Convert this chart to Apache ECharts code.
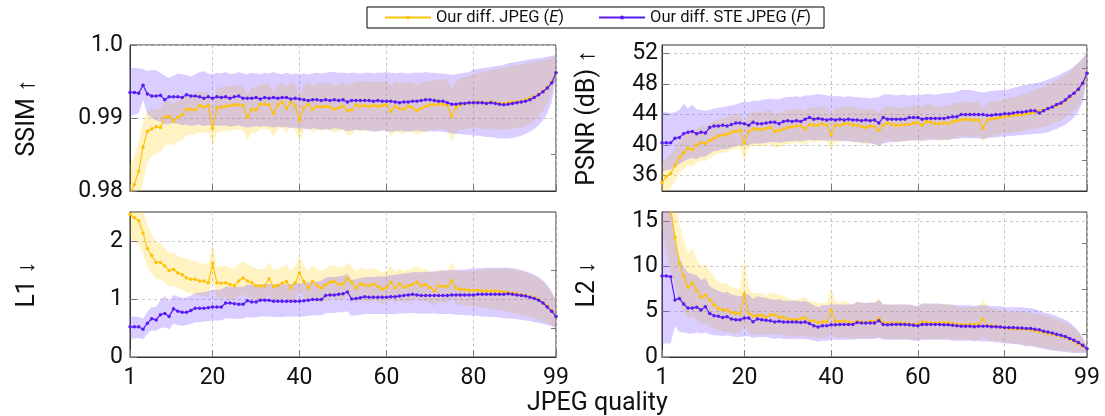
<!DOCTYPE html>
<html>
<head>
<meta charset="utf-8">
<title>JPEG quality metrics</title>
<script src="https://cdn.jsdelivr.net/npm/echarts@6/dist/echarts.min.js"></script>
<style>
  html, body { margin: 0; padding: 0; background: #fff; }
  #chart { width: 1105px; height: 416px; }
</style>
</head>
<body>
<div id="chart"></div>
<script>
// x 轴：JPEG quality 1..99
var quality = [];
for (var q = 1; q <= 99; q++) quality.push(q);
var qualityTicks = [1, 20, 40, 60, 80, 99];

// ---- SSIM ----
var ssimTicks = [0.98, 0.99, 1.0];
var ssimMinor = [0.985, 0.995];
var ssimE = [
  0.9795, 0.9809, 0.9827, 0.9860, 0.9882, 0.9885, 0.9888, 0.9887, 0.9901, 0.9902,
  0.9896, 0.9901, 0.9904, 0.9912, 0.9912, 0.9911, 0.9917, 0.9915, 0.9917, 0.9886,
  0.9914, 0.9915, 0.9916, 0.9917, 0.9918, 0.9918, 0.9917, 0.9901, 0.9912, 0.9911,
  0.9919, 0.9919, 0.9918, 0.9906, 0.9918, 0.9922, 0.9913, 0.9922, 0.9916, 0.9897,
  0.9914, 0.9919, 0.9912, 0.9916, 0.9915, 0.9916, 0.9915, 0.9912, 0.9914, 0.9916,
  0.9910, 0.9911, 0.9918, 0.9916, 0.9917, 0.9916, 0.9917, 0.9916, 0.9917, 0.9918,
  0.9909, 0.9916, 0.9913, 0.9912, 0.9916, 0.9914, 0.9910, 0.9913, 0.9916, 0.9918,
  0.9918, 0.9919, 0.9919, 0.9917, 0.9902, 0.9914, 0.9918, 0.9920, 0.9920, 0.9921,
  0.9922, 0.9921, 0.9921, 0.9922, 0.9921, 0.9920, 0.9920, 0.9921, 0.9922, 0.9922,
  0.9923, 0.9925, 0.9927, 0.9929, 0.9933, 0.9937, 0.9942, 0.9949, 0.9962
];
var ssimEHi = [
  0.9835, 0.9850, 0.9868, 0.9895, 0.9908, 0.9912, 0.9913, 0.9913, 0.9922, 0.9924,
  0.9920, 0.9924, 0.9926, 0.9932, 0.9933, 0.9932, 0.9937, 0.9935, 0.9937, 0.9915,
  0.9941, 0.9942, 0.9943, 0.9944, 0.9945, 0.9945, 0.9944, 0.9932, 0.9942, 0.9942,
  0.9946, 0.9947, 0.9946, 0.9936, 0.9946, 0.9949, 0.9943, 0.9949, 0.9946, 0.9932,
  0.9946, 0.9949, 0.9944, 0.9948, 0.9947, 0.9948, 0.9948, 0.9945, 0.9947, 0.9949,
  0.9945, 0.9946, 0.9951, 0.9950, 0.9950, 0.9949, 0.9950, 0.9949, 0.9950, 0.9951,
  0.9944, 0.9950, 0.9948, 0.9947, 0.9950, 0.9949, 0.9946, 0.9948, 0.9950, 0.9951,
  0.9952, 0.9953, 0.9953, 0.9952, 0.9940, 0.9950, 0.9954, 0.9956, 0.9958, 0.9960,
  0.9962, 0.9963, 0.9964, 0.9966, 0.9967, 0.9968, 0.9969, 0.9971, 0.9972, 0.9973,
  0.9974, 0.9975, 0.9976, 0.9977, 0.9978, 0.9979, 0.9980, 0.9982, 0.9985
];
var ssimELo = [
  0.9780, 0.9780, 0.9785, 0.9810, 0.9840, 0.9847, 0.9852, 0.9853, 0.9862, 0.9865,
  0.9862, 0.9867, 0.9870, 0.9876, 0.9877, 0.9877, 0.9881, 0.9879, 0.9881, 0.9862,
  0.9880, 0.9881, 0.9882, 0.9883, 0.9884, 0.9884, 0.9883, 0.9870, 0.9880, 0.9879,
  0.9885, 0.9885, 0.9884, 0.9874, 0.9884, 0.9888, 0.9880, 0.9888, 0.9883, 0.9867,
  0.9883, 0.9887, 0.9880, 0.9884, 0.9883, 0.9884, 0.9883, 0.9880, 0.9882, 0.9884,
  0.9876, 0.9877, 0.9884, 0.9882, 0.9883, 0.9882, 0.9883, 0.9882, 0.9883, 0.9884,
  0.9875, 0.9882, 0.9879, 0.9878, 0.9882, 0.9880, 0.9877, 0.9879, 0.9882, 0.9884,
  0.9884, 0.9885, 0.9885, 0.9883, 0.9868, 0.9880, 0.9884, 0.9885, 0.9885, 0.9886,
  0.9886, 0.9885, 0.9885, 0.9886, 0.9885, 0.9884, 0.9884, 0.9885, 0.9886, 0.9886,
  0.9887, 0.9889, 0.9892, 0.9896, 0.9902, 0.9910, 0.9920, 0.9935, 0.9958
];
var ssimF = [
  0.9935, 0.9935, 0.9934, 0.9945, 0.9933, 0.9930, 0.9930, 0.9931, 0.9925, 0.9929,
  0.9929, 0.9929, 0.9928, 0.9932, 0.9930, 0.9930, 0.9929, 0.9927, 0.9929, 0.9927,
  0.9929, 0.9928, 0.9929, 0.9927, 0.9929, 0.9930, 0.9927, 0.9927, 0.9927, 0.9928,
  0.9926, 0.9928, 0.9927, 0.9928, 0.9927, 0.9928, 0.9928, 0.9926, 0.9927, 0.9926,
  0.9925, 0.9924, 0.9925, 0.9925, 0.9924, 0.9925, 0.9924, 0.9925, 0.9924, 0.9925,
  0.9922, 0.9924, 0.9924, 0.9924, 0.9924, 0.9924, 0.9923, 0.9924, 0.9923, 0.9923,
  0.9923, 0.9922, 0.9921, 0.9922, 0.9922, 0.9923, 0.9923, 0.9924, 0.9925, 0.9925,
  0.9924, 0.9923, 0.9923, 0.9921, 0.9919, 0.9919, 0.9920, 0.9920, 0.9921, 0.9921,
  0.9921, 0.9921, 0.9920, 0.9921, 0.9920, 0.9919, 0.9918, 0.9919, 0.9920, 0.9921,
  0.9922, 0.9923, 0.9925, 0.9928, 0.9932, 0.9936, 0.9941, 0.9948, 0.9962
];
var ssimFHi = [
  0.9968, 0.9969, 0.9968, 0.9967, 0.9964, 0.9966, 0.9965, 0.9962, 0.9958, 0.9955,
  0.9958, 0.9961, 0.9960, 0.9959, 0.9957, 0.9960, 0.9963, 0.9964, 0.9961, 0.9960,
  0.9962, 0.9961, 0.9963, 0.9960, 0.9961, 0.9963, 0.9961, 0.9960, 0.9962, 0.9961,
  0.9960, 0.9962, 0.9961, 0.9963, 0.9961, 0.9960, 0.9962, 0.9960, 0.9961, 0.9960,
  0.9961, 0.9960, 0.9961, 0.9962, 0.9961, 0.9962, 0.9963, 0.9963, 0.9962, 0.9962,
  0.9961, 0.9962, 0.9962, 0.9961, 0.9962, 0.9962, 0.9961, 0.9962, 0.9962, 0.9963,
  0.9962, 0.9961, 0.9962, 0.9962, 0.9961, 0.9962, 0.9962, 0.9962, 0.9963, 0.9962,
  0.9962, 0.9961, 0.9961, 0.9960, 0.9959, 0.9960, 0.9961, 0.9962, 0.9963, 0.9966,
  0.9967, 0.9968, 0.9969, 0.9970, 0.9971, 0.9972, 0.9973, 0.9975, 0.9976, 0.9977,
  0.9978, 0.9979, 0.9980, 0.9981, 0.9982, 0.9983, 0.9984, 0.9985, 0.9986
];
var ssimFLo = [
  0.9903, 0.9904, 0.9907, 0.9925, 0.9905, 0.9900, 0.9897, 0.9895, 0.9891, 0.9892,
  0.9893, 0.9892, 0.9890, 0.9891, 0.9889, 0.9890, 0.9891, 0.9889, 0.9890, 0.9889,
  0.9890, 0.9889, 0.9890, 0.9888, 0.9889, 0.9890, 0.9888, 0.9887, 0.9888, 0.9889,
  0.9888, 0.9889, 0.9888, 0.9887, 0.9888, 0.9887, 0.9888, 0.9886, 0.9887, 0.9885,
  0.9886, 0.9884, 0.9886, 0.9885, 0.9884, 0.9885, 0.9884, 0.9886, 0.9885, 0.9884,
  0.9882, 0.9883, 0.9884, 0.9883, 0.9884, 0.9883, 0.9881, 0.9882, 0.9883, 0.9882,
  0.9881, 0.9882, 0.9883, 0.9882, 0.9881, 0.9882, 0.9883, 0.9882, 0.9881, 0.9882,
  0.9881, 0.9882, 0.9881, 0.9880, 0.9879, 0.9878, 0.9878, 0.9877, 0.9877, 0.9876,
  0.9876, 0.9875, 0.9874, 0.9874, 0.9873, 0.9872, 0.9872, 0.9872, 0.9873, 0.9874,
  0.9876, 0.9878, 0.9881, 0.9885, 0.9890, 0.9897, 0.9906, 0.9922, 0.9957
];

// ---- PSNR (dB) ----
var psnrTicks = [36, 40, 44, 48, 52];
var psnrMinor = [38, 42, 46, 50];
var psnrE = [
  35.1, 35.9, 36.3, 37.3, 38.4, 39.0, 39.6, 39.4, 40.0, 40.3,
  40.2, 40.6, 40.9, 41.2, 41.3, 41.4, 41.7, 41.8, 41.9, 40.2,
  41.8, 42.1, 42.1, 42.0, 42.2, 42.3, 41.8, 41.9, 42.1, 42.3,
  42.4, 42.5, 42.5, 42.1, 42.7, 42.6, 42.6, 42.8, 42.6, 41.4,
  42.6, 42.6, 42.8, 42.8, 42.6, 42.6, 42.4, 42.3, 42.5, 42.4,
  41.9, 42.6, 42.9, 42.7, 42.6, 42.6, 42.7, 42.7, 42.9, 42.9,
  42.6, 43.1, 43.0, 42.8, 42.8, 42.9, 42.8, 43.1, 43.2, 43.3,
  43.4, 43.3, 43.3, 43.3, 42.2, 43.3, 43.4, 43.5, 43.6, 43.7,
  43.8, 43.9, 43.9, 44.0, 44.1, 44.2, 44.3, 44.5, 44.6, 44.8,
  45.0, 45.2, 45.4, 45.8, 46.3, 46.8, 47.3, 48.1, 49.4
];
var psnrEHi = [
  37.6, 38.3, 38.7, 39.6, 40.6, 41.2, 41.8, 41.7, 42.2, 42.5,
  42.4, 42.8, 43.1, 43.4, 43.5, 43.6, 43.9, 44.0, 44.1, 42.8,
  44.1, 44.4, 44.4, 44.3, 44.5, 44.6, 44.1, 44.2, 44.4, 44.6,
  44.7, 44.8, 44.8, 44.4, 45.0, 44.9, 44.9, 45.1, 44.9, 43.9,
  44.9, 44.9, 45.1, 45.1, 44.9, 44.9, 44.7, 44.6, 44.8, 44.7,
  44.3, 44.9, 45.2, 45.0, 44.9, 44.9, 45.0, 45.0, 45.2, 45.2,
  44.9, 45.4, 45.3, 45.1, 45.1, 45.2, 45.1, 45.4, 45.5, 45.6,
  45.7, 45.6, 45.6, 45.6, 44.7, 45.6, 45.7, 45.8, 45.9, 46.0,
  46.2, 46.3, 46.4, 46.6, 46.8, 47.0, 47.2, 47.4, 47.6, 47.9,
  48.2, 48.5, 48.8, 49.2, 49.6, 50.1, 50.6, 51.2, 52.0
];
var psnrELo = [
  33.3, 33.9, 34.3, 35.3, 36.3, 36.8, 37.3, 37.2, 37.7, 38.0,
  37.9, 38.3, 38.6, 38.9, 39.0, 39.1, 39.4, 39.5, 39.6, 38.0,
  39.6, 39.9, 39.9, 39.8, 40.0, 40.1, 39.6, 39.7, 39.9, 40.1,
  40.2, 40.3, 40.3, 39.9, 40.5, 40.4, 40.4, 40.6, 40.4, 39.4,
  40.4, 40.4, 40.6, 40.6, 40.4, 40.4, 40.2, 40.1, 40.3, 40.2,
  39.9, 40.4, 40.7, 40.5, 40.4, 40.4, 40.5, 40.5, 40.7, 40.7,
  40.4, 40.9, 40.8, 40.6, 40.6, 40.7, 40.6, 40.9, 41.0, 41.1,
  41.2, 41.1, 41.1, 41.1, 40.4, 41.1, 41.2, 41.3, 41.4, 41.5,
  41.6, 41.7, 41.7, 41.8, 41.9, 42.0, 42.1, 42.3, 42.4, 42.6,
  42.8, 43.0, 43.2, 43.6, 44.0, 44.5, 45.1, 46.0, 48.7
];
var psnrF = [
  40.3, 40.3, 40.3, 40.9, 41.0, 41.5, 41.7, 41.8, 41.5, 41.7,
  41.6, 42.3, 42.5, 42.5, 42.6, 42.5, 42.7, 42.9, 42.9, 42.8,
  42.6, 43.0, 42.8, 42.8, 42.9, 43.0, 43.0, 42.8, 43.1, 43.2,
  43.1, 43.2, 43.1, 43.4, 43.6, 43.4, 43.5, 43.4, 43.3, 43.4,
  43.3, 43.4, 43.3, 43.4, 43.3, 43.3, 43.2, 43.3, 43.2, 43.3,
  42.9, 43.6, 43.4, 43.4, 43.4, 43.4, 43.4, 43.6, 43.6, 43.6,
  43.4, 43.5, 43.5, 43.5, 43.5, 43.5, 43.6, 43.7, 43.7, 44.0,
  44.0, 44.0, 44.0, 44.0, 44.0, 43.9, 43.9, 44.0, 44.0, 44.1,
  44.1, 44.2, 44.3, 44.3, 44.4, 44.5, 44.5, 44.2, 44.5, 44.8,
  45.0, 45.3, 45.5, 45.9, 46.4, 46.8, 47.3, 48.1, 49.4
];
var psnrFHi = [
  44.5, 44.3, 44.2, 44.3, 44.6, 45.4, 44.8, 45.3, 44.7, 44.6,
  44.5, 44.6, 44.8, 44.9, 45.0, 45.1, 45.2, 45.3, 45.5, 45.7,
  45.6, 45.8, 45.8, 45.9, 46.0, 46.1, 46.0, 46.0, 46.2, 46.3,
  46.3, 46.4, 46.3, 46.5, 46.5, 46.6, 46.7, 46.6, 46.5, 46.5,
  46.4, 46.4, 46.3, 46.4, 46.3, 46.3, 46.2, 46.2, 46.1, 46.2,
  46.3, 46.6, 46.7, 46.6, 46.5, 46.6, 46.6, 46.5, 46.6, 46.5,
  46.6, 46.7, 46.7, 46.6, 46.7, 46.8, 46.8, 46.9, 47.0, 47.2,
  47.2, 47.2, 47.1, 47.0, 46.9, 47.0, 47.1, 47.1, 47.2, 47.2,
  47.3, 47.5, 47.6, 47.8, 47.9, 48.0, 48.1, 48.2, 48.4, 48.6,
  48.8, 49.0, 49.3, 49.6, 49.9, 50.3, 50.8, 51.4, 52.2
];
var psnrFLo = [
  36.6, 36.7, 36.8, 37.3, 37.5, 37.9, 38.2, 38.3, 38.2, 38.5,
  38.5, 38.9, 39.2, 39.3, 39.5, 39.5, 39.7, 39.9, 40.0, 40.0,
  40.0, 40.2, 40.2, 40.2, 40.3, 40.4, 40.4, 40.3, 40.4, 40.5,
  40.5, 40.6, 40.5, 40.6, 40.7, 40.6, 40.7, 40.6, 40.6, 40.6,
  40.6, 40.6, 40.5, 40.5, 40.4, 40.4, 40.3, 40.3, 40.2, 40.1,
  39.9, 40.2, 40.3, 40.4, 40.4, 40.5, 40.5, 40.6, 40.6, 40.6,
  40.6, 40.6, 40.7, 40.7, 40.7, 40.7, 40.7, 40.8, 40.8, 40.9,
  40.9, 40.9, 40.9, 40.9, 40.8, 40.9, 41.0, 41.0, 41.1, 41.1,
  41.2, 41.2, 41.3, 41.3, 41.4, 41.4, 41.5, 41.5, 41.6, 41.7,
  41.9, 42.1, 42.4, 42.7, 43.1, 43.6, 44.4, 45.6, 48.8
];

// ---- L1 ----
var l1Ticks = [0, 1, 2];
var l1Minor = [0.5, 1.5];
var l1E = [
  2.46, 2.40, 2.35, 2.14, 1.87, 1.75, 1.63, 1.63, 1.57, 1.49,
  1.51, 1.45, 1.42, 1.36, 1.34, 1.34, 1.31, 1.31, 1.28, 1.61,
  1.28, 1.27, 1.28, 1.25, 1.23, 1.31, 1.36, 1.31, 1.28, 1.23,
  1.22, 1.23, 1.35, 1.21, 1.23, 1.27, 1.30, 1.19, 1.28, 1.45,
  1.30, 1.19, 1.30, 1.23, 1.19, 1.24, 1.29, 1.30, 1.25, 1.26,
  1.35, 1.29, 1.19, 1.26, 1.24, 1.23, 1.26, 1.22, 1.17, 1.20,
  1.29, 1.19, 1.26, 1.20, 1.23, 1.25, 1.29, 1.23, 1.25, 1.20,
  1.14, 1.23, 1.22, 1.21, 1.32, 1.19, 1.17, 1.16, 1.15, 1.15,
  1.15, 1.14, 1.14, 1.14, 1.14, 1.13, 1.12, 1.11, 1.10, 1.09,
  1.07, 1.06, 1.04, 1.02, 1.00, 0.93, 0.88, 0.80, 0.70
];
var l1EHi = [
  2.95, 2.90, 2.85, 2.60, 2.27, 2.12, 1.98, 1.97, 1.88, 1.79,
  1.80, 1.74, 1.71, 1.70, 1.66, 1.65, 1.62, 1.61, 1.58, 1.98,
  1.57, 1.56, 1.57, 1.54, 1.52, 1.60, 1.65, 1.60, 1.57, 1.52,
  1.51, 1.52, 1.64, 1.50, 1.52, 1.56, 1.59, 1.48, 1.57, 1.72,
  1.58, 1.48, 1.58, 1.52, 1.48, 1.53, 1.57, 1.58, 1.54, 1.55,
  1.63, 1.57, 1.48, 1.54, 1.52, 1.51, 1.54, 1.50, 1.46, 1.48,
  1.57, 1.47, 1.54, 1.48, 1.51, 1.53, 1.57, 1.51, 1.53, 1.48,
  1.44, 1.51, 1.50, 1.49, 1.64, 1.48, 1.48, 1.48, 1.48, 1.49,
  1.50, 1.50, 1.51, 1.52, 1.52, 1.52, 1.52, 1.52, 1.51, 1.50,
  1.48, 1.46, 1.43, 1.40, 1.36, 1.30, 1.22, 1.12, 0.97
];
var l1ELo = [
  2.05, 2.00, 1.95, 1.78, 1.54, 1.44, 1.34, 1.34, 1.28, 1.22,
  1.23, 1.18, 1.16, 1.11, 1.09, 1.08, 1.06, 1.05, 1.03, 1.30,
  1.02, 1.01, 1.02, 0.99, 0.97, 1.04, 1.08, 1.04, 1.01, 0.97,
  0.96, 0.97, 1.07, 0.95, 0.97, 1.00, 1.02, 0.93, 1.00, 1.15,
  1.02, 0.93, 1.02, 0.96, 0.93, 0.97, 1.01, 1.02, 0.98, 0.98,
  1.06, 1.01, 0.93, 0.98, 0.96, 0.95, 0.98, 0.95, 0.91, 0.93,
  1.01, 0.93, 0.98, 0.93, 0.95, 0.97, 1.01, 0.95, 0.97, 0.93,
  0.88, 0.95, 0.94, 0.93, 1.04, 0.92, 0.90, 0.89, 0.88, 0.87,
  0.86, 0.85, 0.84, 0.83, 0.82, 0.81, 0.79, 0.78, 0.76, 0.75,
  0.73, 0.71, 0.69, 0.67, 0.64, 0.61, 0.58, 0.55, 0.51
];
var l1F = [
  0.52, 0.52, 0.52, 0.48, 0.58, 0.66, 0.64, 0.73, 0.75, 0.70,
  0.83, 0.79, 0.77, 0.77, 0.80, 0.84, 0.84, 0.84, 0.85, 0.86,
  0.86, 0.86, 0.93, 0.93, 0.92, 0.91, 0.91, 0.97, 0.95, 0.95,
  0.98, 0.98, 0.98, 0.96, 0.96, 0.96, 0.96, 0.96, 0.96, 0.96,
  0.97, 0.98, 0.99, 0.99, 0.99, 1.06, 1.07, 1.07, 1.08, 1.09,
  1.12, 1.00, 1.01, 1.02, 1.04, 1.03, 1.03, 1.03, 1.03, 1.03,
  1.04, 1.04, 1.05, 1.06, 1.07, 1.08, 1.07, 1.06, 1.06, 1.06,
  1.06, 1.06, 1.06, 1.06, 1.07, 1.07, 1.07, 1.07, 1.07, 1.07,
  1.08, 1.08, 1.08, 1.08, 1.08, 1.08, 1.08, 1.09, 1.08, 1.07,
  1.06, 1.05, 1.03, 1.01, 0.98, 0.93, 0.86, 0.79, 0.70
];
var l1FHi = [
  0.70, 0.70, 0.69, 0.66, 0.78, 0.86, 0.86, 0.98, 1.05, 0.96,
  1.07, 1.04, 1.02, 1.03, 1.06, 1.10, 1.11, 1.12, 1.14, 1.16,
  1.16, 1.17, 1.21, 1.21, 1.21, 1.21, 1.21, 1.25, 1.24, 1.24,
  1.26, 1.26, 1.26, 1.25, 1.26, 1.26, 1.26, 1.26, 1.27, 1.27,
  1.28, 1.29, 1.30, 1.30, 1.31, 1.37, 1.38, 1.38, 1.39, 1.40,
  1.43, 1.33, 1.34, 1.36, 1.38, 1.38, 1.38, 1.39, 1.39, 1.40,
  1.41, 1.42, 1.43, 1.44, 1.45, 1.46, 1.46, 1.46, 1.47, 1.47,
  1.48, 1.48, 1.49, 1.49, 1.50, 1.50, 1.51, 1.51, 1.52, 1.52,
  1.53, 1.53, 1.54, 1.54, 1.54, 1.54, 1.54, 1.54, 1.53, 1.52,
  1.50, 1.48, 1.45, 1.42, 1.38, 1.32, 1.24, 1.13, 0.98
];
var l1FLo = [
  0.32, 0.32, 0.33, 0.30, 0.40, 0.46, 0.45, 0.50, 0.51, 0.48,
  0.57, 0.55, 0.54, 0.55, 0.57, 0.60, 0.60, 0.61, 0.62, 0.63,
  0.63, 0.63, 0.67, 0.67, 0.66, 0.66, 0.66, 0.69, 0.68, 0.68,
  0.70, 0.70, 0.70, 0.69, 0.69, 0.69, 0.70, 0.70, 0.70, 0.70,
  0.70, 0.71, 0.72, 0.72, 0.72, 0.76, 0.76, 0.76, 0.77, 0.77,
  0.79, 0.71, 0.72, 0.73, 0.74, 0.74, 0.74, 0.74, 0.74, 0.74,
  0.74, 0.74, 0.75, 0.75, 0.76, 0.76, 0.75, 0.75, 0.75, 0.75,
  0.75, 0.74, 0.74, 0.74, 0.74, 0.73, 0.73, 0.72, 0.72, 0.71,
  0.71, 0.70, 0.70, 0.69, 0.69, 0.68, 0.67, 0.67, 0.66, 0.65,
  0.64, 0.63, 0.62, 0.60, 0.59, 0.57, 0.55, 0.53, 0.50
];

// ---- L2 ----
var l2Ticks = [0, 5, 10, 15];
var l2Minor = [2.5, 7.5, 12.5];
var l2E = [
  22.0, 19.0, 16.3, 13.2, 10.3, 8.9, 7.7, 8.2, 7.3, 6.6,
  6.85, 6.3, 5.75, 5.35, 5.2, 5.2, 4.9, 4.85, 4.8, 6.95,
  4.85, 4.5, 4.6, 4.6, 4.4, 4.65, 4.65, 4.4, 4.4, 4.2,
  4.1, 4.1, 4.2, 4.35, 3.95, 4.0, 3.8, 3.9, 3.85, 5.2,
  3.95, 3.9, 4.0, 3.85, 3.75, 3.95, 3.85, 3.8, 3.95, 3.9,
  4.25, 3.8, 3.7, 3.75, 3.75, 3.75, 3.75, 3.65, 3.6, 3.6,
  3.85, 3.8, 3.75, 3.75, 3.75, 3.8, 3.75, 3.7, 3.6, 3.55,
  3.55, 3.55, 3.6, 3.6, 4.2, 3.5, 3.45, 3.4, 3.3, 3.2,
  3.15, 3.1, 3.1, 3.1, 3.05, 3.0, 2.9, 2.8, 2.7, 2.6,
  2.5, 2.4, 2.3, 2.15, 2.0, 1.75, 1.45, 1.2, 0.92
];
var l2EHi = [
  30, 27, 23, 18.5, 14.8, 13.0, 11.5, 12.0, 10.8, 10.0,
  10.2, 9.5, 8.8, 8.3, 8.1, 8.1, 7.7, 7.6, 7.5, 11.0,
  7.5, 7.0, 7.1, 7.1, 6.8, 7.1, 7.1, 6.8, 6.8, 6.5,
  6.3, 6.3, 6.5, 6.6, 6.1, 6.2, 5.9, 6.0, 6.0, 7.6,
  6.1, 6.0, 6.2, 6.0, 5.8, 6.1, 6.0, 5.9, 6.1, 6.0,
  6.5, 5.9, 5.8, 5.8, 5.8, 5.8, 5.8, 5.7, 5.6, 5.6,
  5.9, 5.9, 5.8, 5.8, 5.8, 5.9, 5.8, 5.7, 5.6, 5.5,
  5.5, 5.5, 5.6, 5.6, 6.4, 5.5, 5.4, 5.3, 5.2, 5.1,
  5.0, 5.0, 5.0, 5.0, 4.9, 4.9, 4.8, 4.7, 4.6, 4.5,
  4.4, 4.2, 4.0, 3.8, 3.5, 3.2, 2.7, 2.1, 1.2
];
var l2ELo = [
  14, 11.5, 9.5, 7.9, 6.0, 5.0, 4.3, 4.5, 4.0, 3.6,
  3.7, 3.4, 3.1, 2.9, 2.8, 2.8, 2.6, 2.6, 2.6, 3.5,
  2.6, 2.4, 2.5, 2.5, 2.4, 2.5, 2.5, 2.4, 2.4, 2.3,
  2.2, 2.2, 2.3, 2.3, 2.1, 2.2, 2.1, 2.1, 2.1, 2.8,
  2.1, 2.1, 2.2, 2.1, 2.0, 2.1, 2.1, 2.1, 2.1, 2.1,
  2.3, 2.1, 2.0, 2.0, 2.0, 2.0, 2.0, 2.0, 1.9, 1.9,
  2.0, 2.0, 2.0, 2.0, 2.0, 2.0, 2.0, 1.9, 1.9, 1.9,
  1.9, 1.9, 1.9, 1.9, 2.2, 1.8, 1.8, 1.7, 1.7, 1.6,
  1.6, 1.5, 1.5, 1.4, 1.3, 1.3, 1.2, 1.1, 1.0, 0.9,
  0.8, 0.75, 0.7, 0.65, 0.6, 0.55, 0.5, 0.5, 0.5
];
var l2F = [
  8.95, 8.95, 8.85, 6.3, 6.45, 5.85, 5.4, 5.4, 5.5, 5.2,
  5.55, 4.8, 4.55, 4.5, 4.35, 4.45, 4.2, 4.1, 4.1, 4.3,
  4.3, 3.9, 4.2, 4.1, 4.05, 4.0, 3.85, 3.95, 3.85, 3.85,
  3.85, 3.85, 3.8, 3.85, 3.7, 3.45, 3.3, 3.45, 3.45, 3.55,
  3.55, 3.6, 3.6, 3.6, 3.6, 3.8, 3.75, 3.75, 3.75, 3.75,
  4.0, 3.6, 3.55, 3.6, 3.6, 3.6, 3.6, 3.55, 3.5, 3.45,
  3.6, 3.6, 3.6, 3.6, 3.6, 3.55, 3.55, 3.5, 3.45, 3.4,
  3.4, 3.4, 3.35, 3.4, 3.4, 3.4, 3.35, 3.35, 3.3, 3.25,
  3.25, 3.25, 3.2, 3.2, 3.15, 3.15, 3.05, 3.0, 2.85, 2.75,
  2.65, 2.5, 2.4, 2.25, 2.05, 1.85, 1.6, 1.3, 0.92
];
var l2FHi = [
  17, 17, 17, 12.6, 11.0, 10.0, 9.3, 9.2, 9.0, 8.5,
  8.7, 7.8, 7.5, 7.3, 7.1, 7.2, 6.9, 6.8, 6.7, 6.9,
  6.9, 6.4, 6.7, 6.6, 6.5, 6.4, 6.3, 6.4, 6.2, 6.2,
  6.2, 6.2, 6.1, 6.2, 6.0, 5.7, 5.5, 5.7, 5.7, 5.8,
  5.8, 5.8, 5.8, 5.8, 5.8, 6.1, 6.0, 6.0, 6.0, 6.0,
  6.3, 5.8, 5.8, 5.8, 5.8, 5.8, 5.8, 5.8, 5.7, 5.6,
  5.9, 5.9, 5.9, 5.9, 5.9, 5.8, 5.8, 5.8, 5.7, 5.7,
  5.7, 5.7, 5.6, 5.7, 5.7, 5.7, 5.6, 5.6, 5.6, 5.5,
  5.5, 5.5, 5.5, 5.5, 5.4, 5.4, 5.3, 5.1, 4.9, 4.8,
  4.7, 4.5, 4.3, 4.1, 3.8, 3.4, 2.9, 2.2, 1.2
];
var l2FLo = [
  1.5, 1.5, 1.5, 3.4, 2.8, 2.7, 2.6, 2.6, 2.7, 2.6,
  2.7, 2.5, 2.4, 2.4, 2.3, 2.4, 2.3, 2.2, 2.2, 2.3,
  2.3, 2.1, 2.2, 2.2, 2.2, 2.1, 2.0, 2.1, 2.0, 2.0,
  2.0, 2.0, 2.0, 2.0, 1.9, 1.8, 1.7, 1.8, 1.8, 1.9,
  1.9, 1.9, 1.9, 1.9, 1.9, 2.0, 2.0, 2.0, 2.0, 2.0,
  2.1, 1.9, 1.9, 1.9, 1.9, 1.9, 1.9, 1.9, 1.8, 1.8,
  1.9, 1.9, 1.9, 1.9, 1.9, 1.9, 1.9, 1.8, 1.8, 1.8,
  1.8, 1.8, 1.7, 1.8, 1.7, 1.7, 1.7, 1.6, 1.6, 1.5,
  1.5, 1.4, 1.4, 1.3, 1.2, 1.2, 1.1, 1.0, 0.9, 0.8,
  0.7, 0.65, 0.6, 0.55, 0.5, 0.45, 0.45, 0.45, 0.45
];

// 颜色与字体
var FONT = 'Roboto, "Noto Sans", sans-serif';
var colorE = '#ffc20a';
var colorF = '#5a1cf5';
var bandE = 'rgba(255, 204, 0, 0.23)';
var bandF = 'rgba(120, 80, 255, 0.28)';
var nameE = 'Our diff. JPEG (E)';
var nameF = 'Our diff. STE JPEG (F)';

// 四个子图的布局
var panels = [
  { title: 'SSIM ↑', min: 0.98, max: 1.0, ticks: ssimTicks, minor: ssimMinor,
    e: ssimE, eHi: ssimEHi, eLo: ssimELo, f: ssimF, fHi: ssimFHi, fLo: ssimFLo,
    left: 130, top: 45, width: 426, height: 146, xLabel: false, nameGap: 90, labelMargin: 7,
    fmt: function (v) { return v === 1 ? '1.0' : v.toFixed(2); } },
  { title: 'PSNR (dB) ↑', min: 34, max: 53.1, ticks: psnrTicks, minor: psnrMinor,
    e: psnrE, eHi: psnrEHi, eLo: psnrELo, f: psnrF, fHi: psnrFHi, fLo: psnrFLo,
    left: 662, top: 45, width: 425, height: 146, xLabel: false, nameGap: 62, labelMargin: 4,
    fmt: function (v) { return String(v); } },
  { title: 'L1 ↓', min: 0, max: 2.5, ticks: l1Ticks, minor: l1Minor,
    e: l1E, eHi: l1EHi, eLo: l1ELo, f: l1F, fHi: l1FHi, fLo: l1FLo,
    left: 130, top: 212, width: 426, height: 145, xLabel: true, nameGap: 90, labelMargin: 7,
    fmt: function (v) { return String(v); } },
  { title: 'L2 ↓', min: 0, max: 16, ticks: l2Ticks, minor: l2Minor,
    e: l2E, eHi: l2EHi, eLo: l2ELo, f: l2F, fHi: l2FHi, fLo: l2FLo,
    left: 662, top: 212, width: 425, height: 145, xLabel: true, nameGap: 62, labelMargin: 4,
    fmt: function (v) { return String(v); } }
];

function pts(vals) {
  return vals.map(function (v, i) { return [quality[i], v]; });
}
// 区间带：每行 [q, 下界, 上界]
function bandRows(lo, hi) {
  return lo.map(function (v, i) { return [quality[i], v, hi[i]]; });
}
// 用 custom 系列画一个多边形（上界正向 + 下界反向），坐标全部经 api.coord 换算
function bandSeries(rows, color, xi, yi, z) {
  return {
    type: 'custom', xAxisIndex: xi, yAxisIndex: yi, silent: true, clip: true, z: z,
    encode: { x: 0, y: [1, 2] },
    data: rows,
    renderItem: function (params, api) {
      if (params.dataIndex !== 0) return null;
      var top = [], bottom = [];
      rows.forEach(function (r) {
        top.push(api.coord([r[0], r[2]]));
        bottom.push(api.coord([r[0], r[1]]));
      });
      var points = top.concat(bottom.reverse());
      var cs = params.coordSys;
      return {
        type: 'group',
        clipPath: { type: 'rect', shape: { x: cs.x, y: cs.y, width: cs.width, height: cs.height } },
        children: [{ type: 'polygon', shape: { points: points }, style: { fill: color } }]
      };
    }
  };
}

var grids = [], xAxes = [], yAxes = [], series = [];

panels.forEach(function (p, i) {
  grids.push({ left: p.left, top: p.top, width: p.width, height: p.height,
    show: true, borderColor: '#333', borderWidth: 1, backgroundColor: 'transparent' });

  xAxes.push({
    gridIndex: i, type: 'value', min: 1, max: 99,
    axisLine: { show: true, lineStyle: { color: '#333', width: 1 } },
    axisTick: { show: true, inside: true, length: 7, customValues: qualityTicks,
      lineStyle: { color: '#777' } },
    axisLabel: { show: p.xLabel, customValues: qualityTicks, margin: 10,
      color: '#111', fontSize: 23, fontFamily: FONT },
    splitLine: { show: true, lineStyle: { color: '#c8c8c8', type: [3, 3], width: 1 } }
  });

  // 主刻度轴
  yAxes.push({
    gridIndex: i, type: 'value', min: p.min, max: p.max,
    name: p.title, nameLocation: 'middle', nameRotate: 90, nameGap: p.nameGap,
    nameTextStyle: { fontSize: 25, color: '#111', fontFamily: FONT },
    axisLine: { show: true, lineStyle: { color: '#333', width: 1 } },
    axisTick: { show: true, inside: true, length: 7, customValues: p.ticks,
      lineStyle: { color: '#777' } },
    axisLabel: { show: true, customValues: p.ticks, margin: p.labelMargin,
      color: '#111', fontSize: 23, fontFamily: FONT, formatter: p.fmt },
    splitLine: { show: true, lineStyle: { color: '#c8c8c8', type: [3, 3], width: 1 } }
  });
  // 次刻度轴（只画短刻度）
  yAxes.push({
    gridIndex: i, type: 'value', min: p.min, max: p.max,
    axisLine: { show: false },
    axisTick: { show: true, inside: true, length: 5, customValues: p.minor,
      lineStyle: { color: '#777' } },
    axisLabel: { show: false },
    splitLine: { show: false }
  });

  var yIdx = i * 2;
  series.push(bandSeries(bandRows(p.eLo, p.eHi), bandE, i, yIdx, 1));
  series.push(bandSeries(bandRows(p.fLo, p.fHi), bandF, i, yIdx, 2));

  series.push({ name: nameE, type: 'line', xAxisIndex: i, yAxisIndex: yIdx,
    data: pts(p.e), symbol: 'circle', symbolSize: 3.5, clip: true, z: 3,
    lineStyle: { color: colorE, width: 1.2 }, itemStyle: { color: colorE } });
  series.push({ name: nameF, type: 'line', xAxisIndex: i, yAxisIndex: yIdx,
    data: pts(p.f), symbol: 'circle', symbolSize: 3.5, clip: true, z: 4,
    lineStyle: { color: colorF, width: 1.2 }, itemStyle: { color: colorF } });
});

var chart = echarts.init(document.getElementById('chart'), null, { renderer: 'canvas' });
chart.setOption({
  animation: false,
  backgroundColor: '#fff',
  title: {
    text: 'JPEG quality', left: 522, top: 386,
    textStyle: { fontSize: 25, fontWeight: 'normal', color: '#111', fontFamily: FONT }
  },
  legend: {
    data: [nameE, nameF],
    left: 367, top: 7,
    padding: [2, 13, 2, 17],
    itemGap: 34, itemWidth: 46, itemHeight: 5,
    borderColor: '#000', borderWidth: 1,
    formatter: function (n) { return n.replace(/\((E|F)\)/, '({it|$1})'); },
    textStyle: { fontSize: 16.5, color: '#111', fontFamily: FONT,
      rich: { it: { fontStyle: 'italic', fontSize: 16.5, color: '#111', fontFamily: FONT } } }
  },
  grid: grids,
  xAxis: xAxes,
  yAxis: yAxes,
  series: series
});
window.onresize = function () { chart.resize(); };
</script>
</body>
</html>
